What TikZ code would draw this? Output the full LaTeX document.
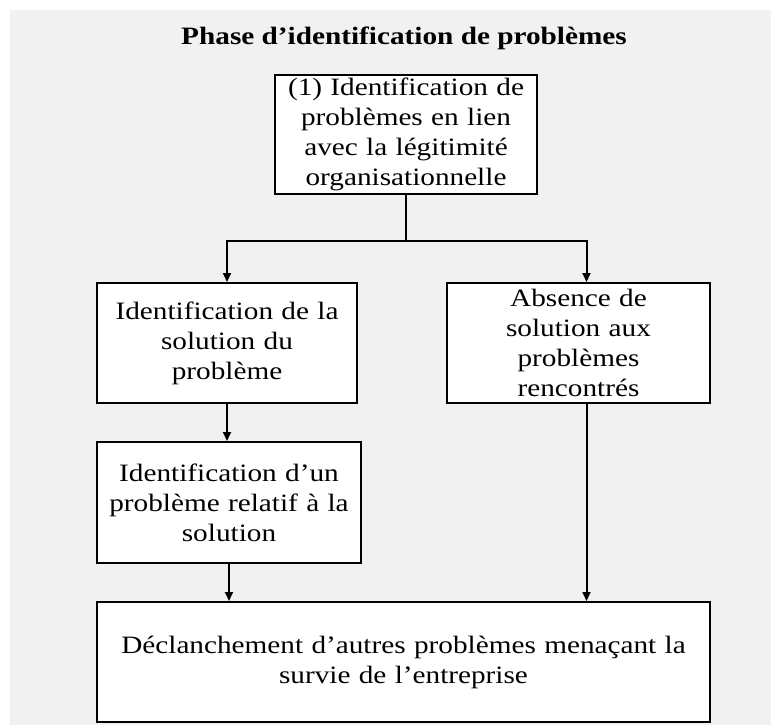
\documentclass[tikz,border=0pt]{standalone}
\usepackage{fontspec}
\setmainfont{Liberation Serif}[FakeStretch=1.17]
\usetikzlibrary{arrows.meta}
\definecolor{fondgris}{HTML}{F1F1F1}
\begin{document}
\begin{tikzpicture}[x=1pt,y=-1pt,
    boite/.style={draw,line width=2pt,fill=white,inner sep=0pt,align=center,
      font=\fontsize{25}{30}\selectfont},
    trait/.style={line width=2pt},
    fleche/.style={line width=2pt,-{Triangle[length=9pt,width=8pt]}}]
        \useasboundingbox (0,0) rectangle (771,725);
        \fill[fondgris] (10,10) rectangle (771,725);
        \node[anchor=base,font=\fontsize{25}{30}\selectfont\bfseries] (titre) at (404,45){Phase d’identification de problèmes};
        \node[boite,minimum width=262pt,minimum height=119pt,text width=250pt] (prob) at (406,134.5){(1) Identification de\\problèmes en lien\\avec la légitimité\\organisationnelle};
        \node[boite,minimum width=260pt,minimum height=120pt,text width=250pt] (sol) at (227,343){Identification de la\\solution du\\problème};
        \node[boite,minimum width=263pt,minimum height=120pt,text width=250pt] (abs) at (578.5,343){Absence de\\solution aux\\problèmes\\rencontrés};
        \node[boite,minimum width=264pt,minimum height=121pt,text width=254pt] (rel) at (229,502.5){Identification d’un\\problème relatif à la\\solution};
        \node[boite,minimum width=613pt,minimum height=120pt,text width=600pt] (fin) at (403.5,662){Déclanchement d’autres problèmes menaçant la\\survie de l’entreprise};
        \coordinate (fourche) at (406,241);
        \draw[trait] (prob.south) -- (fourche);
        \draw[fleche] (fourche) -| (sol.north);
        \draw[fleche] (fourche) -| ([xshift=8pt]abs.north);
        \draw[fleche] (sol.south) -- (sol.south |- rel.north);
        \draw[fleche] (rel.south) -- (rel.south |- fin.north);
        \draw[fleche] ([xshift=8pt]abs.south) -- ([xshift=8pt]abs.south |- fin.north);
    \end{tikzpicture}
\end{document}
